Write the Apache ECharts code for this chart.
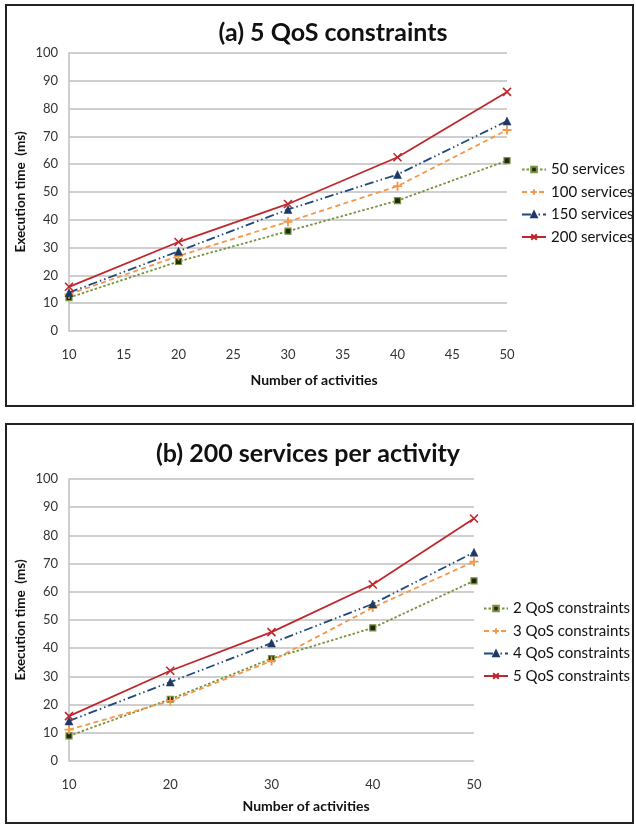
<!DOCTYPE html>
<html>
<head>
<meta charset="utf-8">
<script src="https://cdn.jsdelivr.net/npm/echarts@6/dist/echarts.min.js"></script>
<style>
html,body{margin:0;padding:0;background:#fff;}
#c{width:636px;height:827px;}
</style>
</head>
<body>
<div id="c"></div>
<script>
// ---- data ----
const activities = [10, 20, 30, 40, 50];
const namesA = ['50 services', '100 services', '150 services', '200 services'];
const s50  = [12.0, 25.0, 35.9, 46.9, 61.3];
const s100 = [13.2, 27.0, 39.3, 52.1, 72.3];
const s150 = [13.8, 28.7, 43.7, 56.3, 75.5];
const s200 = [15.9, 32.0, 45.7, 62.5, 86.0];
const namesB = ['2 QoS constraints', '3 QoS constraints', '4 QoS constraints', '5 QoS constraints'];
const q2 = [8.9, 21.9, 36.3, 47.2, 63.9];
const q3 = [11.1, 21.3, 35.5, 54.4, 70.7];
const q4 = [14.2, 28.0, 41.8, 55.7, 74.0];
const q5 = [15.9, 32.0, 45.7, 62.6, 86.0];
const yTicks = [0, 100, 10];

// ---- styles ----
const FONT = 'Lato, "Open Sans", sans-serif';
const styles = [
  {line: '#77933C', type: [2.5, 2], sym: 'rect', size: 6, fill: '#1D2A0C', border: '#77933C', bw: 1.2},
  {line: '#F79646', type: [5, 3.5], sym: 'path://M5,0L5,10M0,5L10,5', size: 9, fill: '#F79646', border: '#F79646', bw: 1.8},
  {line: '#1F497D', type: [9, 3, 1.5, 3, 1.5, 3], sym: 'triangle', size: 8, fill: '#1F3864', border: '#1F3864', bw: 0.5},
  {line: '#C0272D', type: 'solid', sym: 'path://M0,0L10,10M10,0L0,10', size: 8, fill: '#C0272D', border: '#C0272D', bw: 1.6}
];
function mk(name, vals, st, idx) {
  return {
    name: name, type: 'line', xAxisIndex: idx, yAxisIndex: idx,
    data: activities.map((x, i) => [x, vals[i]]),
    symbol: st.sym, symbolSize: st.size, showSymbol: true,
    lineStyle: {color: st.line, width: 1.8, type: st.type},
    itemStyle: {color: st.fill, borderColor: st.border, borderWidth: st.bw},
    emphasis: {disabled: true}, animation: false
  };
}
function xAx(idx, interval) {
  return {
    type: 'value', gridIndex: idx, min: 10, max: 50, interval: interval,
    axisLine: {show: false}, axisTick: {show: false}, splitLine: {show: false},
    axisLabel: {color: '#333', fontSize: 13, fontFamily: FONT, margin: 17}
  };
}
function yAx(idx) {
  return {
    type: 'value', gridIndex: idx, min: yTicks[0], max: yTicks[1], interval: yTicks[2],
    axisLine: {show: true, lineStyle: {color: '#BFBFBF', width: 1.5}}, axisTick: {show: false},
    splitLine: {show: true, lineStyle: {color: '#BFBFBF', width: 1.5}},
    axisLabel: {color: '#333', fontSize: 13, fontFamily: FONT, margin: 11}
  };
}
function txt(t, x, y, size, weight, rot) {
  return {type: 'text', x: x, y: y, rotation: rot || 0,
    style: {text: t, fill: '#111', font: weight + ' ' + size + 'px ' + FONT, align: 'center', verticalAlign: 'middle'}};
}
function leg(names, left, top, gap) {
  return {data: names, orient: 'vertical', left: left, top: top, itemWidth: 24, itemHeight: 7, itemGap: gap,
    textStyle: {fontFamily: FONT, fontSize: 15, color: '#111'}, selectedMode: false};
}

const chart = echarts.init(document.getElementById('c'), null, {renderer: 'canvas'});
chart.setOption({
  backgroundColor: '#fff',
  animation: false,
  grid: [
    {left: 69, top: 53, width: 438, height: 278},
    {left: 69, top: 479, width: 405, height: 282}
  ],
  xAxis: [xAx(0, 5), xAx(1, 10)],
  yAxis: [yAx(0), yAx(1)],
  legend: [leg(namesA, 516, 157, 7.5), leg(namesB, 478, 596, 7.5)],
  series: [
    mk(namesA[0], s50, styles[0], 0), mk(namesA[1], s100, styles[1], 0),
    mk(namesA[2], s150, styles[2], 0), mk(namesA[3], s200, styles[3], 0),
    mk(namesB[0], q2, styles[0], 1), mk(namesB[1], q3, styles[1], 1),
    mk(namesB[2], q4, styles[2], 1), mk(namesB[3], q5, styles[3], 1)
  ],
  graphic: [
    {type: 'rect', shape: {x: 6, y: 5, width: 627, height: 401}, style: {fill: 'none', stroke: '#222', lineWidth: 2}},
    {type: 'rect', shape: {x: 6, y: 424, width: 627, height: 399}, style: {fill: 'none', stroke: '#222', lineWidth: 2}},
    txt('(a) 5 QoS constraints', 333, 33, 25, 'bold'),
    txt('(b) 200 services per activity', 308, 454, 25, 'bold'),
    txt('Number of activities', 314, 380, 14, 'bold'),
    txt('Number of activities', 306, 806, 14, 'bold'),
    txt('Execution time  (ms)', 21, 192, 13.5, 'bold', Math.PI / 2),
    txt('Execution time  (ms)', 21, 620, 13.5, 'bold', Math.PI / 2)
  ]
});
</script>
</body>
</html>
